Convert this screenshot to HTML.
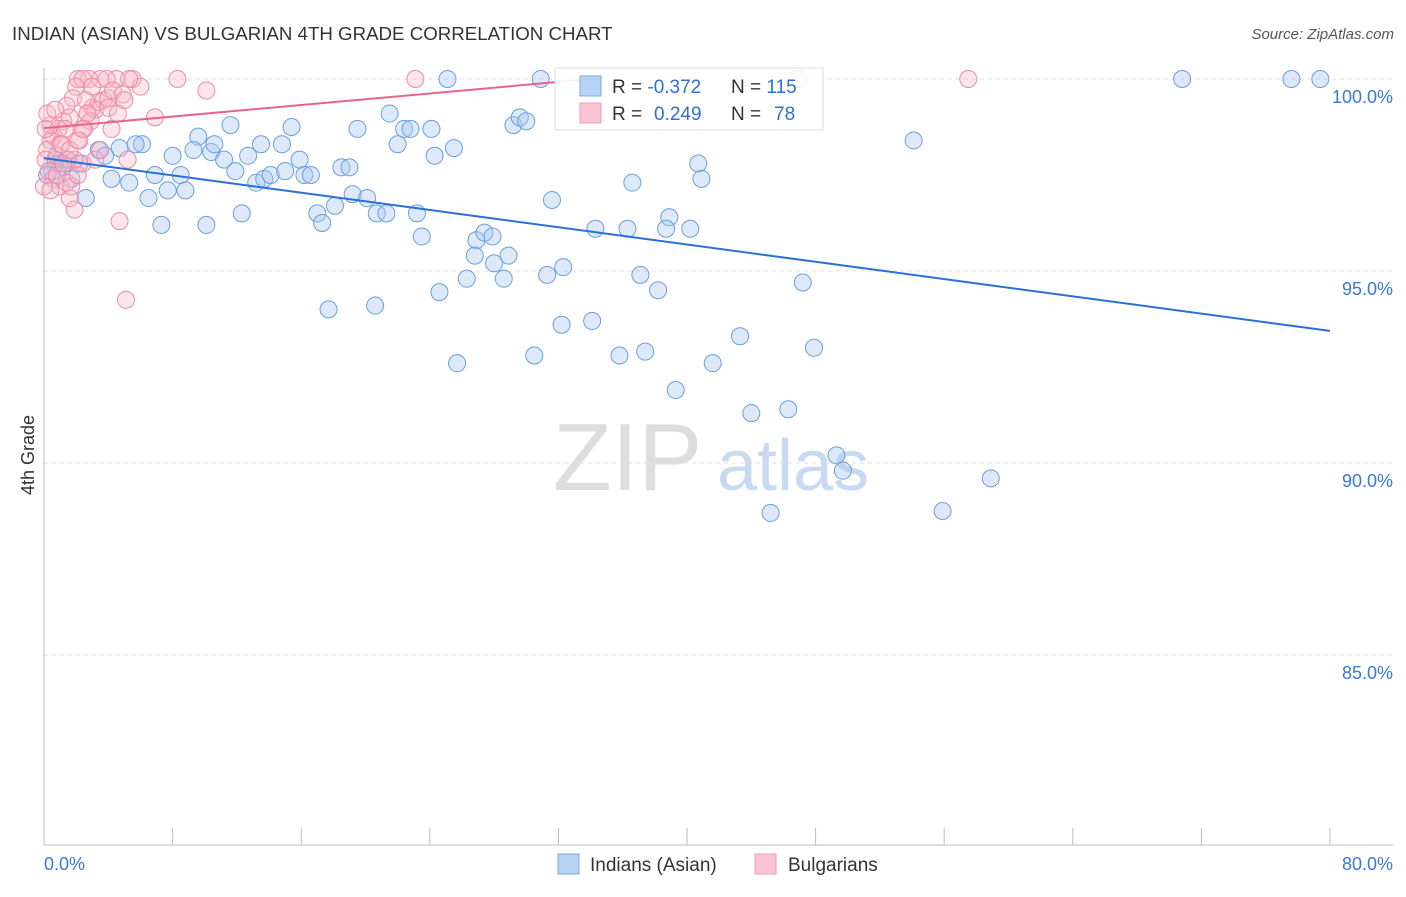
<!DOCTYPE html>
<html><head><meta charset="utf-8"><style>
body{margin:0;background:#fff;font-family:"Liberation Sans",sans-serif;}
svg text{font-family:"Liberation Sans",sans-serif;}
</style></head><body>
<svg id="chart" width="1406" height="892" viewBox="0 0 1406 892" xmlns="http://www.w3.org/2000/svg">
<text x="12" y="40" font-size="18.7" fill="#333">INDIAN (ASIAN) VS BULGARIAN 4TH GRADE CORRELATION CHART</text>
<text x="1394" y="39" font-size="15" fill="#555" font-style="italic" text-anchor="end">Source: ZipAtlas.com</text>
<g>
<text x="553" y="490" font-size="96" fill="#ddd" font-family="Liberation Serif">ZIP</text>
<text x="717" y="490" font-size="72" fill="#c8daf2">atlas</text>
</g>
<g id="grid"></g><g id="axes"></g><g id="marks"></g>
<text transform="translate(34,455) rotate(-90)" font-size="18" fill="#333" text-anchor="middle">4th Grade</text>
<g>
<rect x="555" y="68" width="268" height="62" fill="#fff" fill-opacity="0.9" stroke="#ddd"/>
<rect x="580" y="76" width="21" height="20" fill="#b8d2f4" stroke="#7aa8e4"/>
<rect x="580" y="103" width="21" height="20" fill="#f9c4d3" stroke="#f09ab4"/>
<text x="612" y="93" font-size="19" fill="#333">R = <tspan fill="#2f6fd3">-0.372</tspan></text>
<text x="731" y="93" font-size="19" fill="#333">N = <tspan fill="#2f6fd3">115</tspan></text>
<text x="612" y="120" font-size="19" fill="#333">R = <tspan fill="#2f6fd3" x="654">0.249</tspan></text>
<text x="731" y="120" font-size="19" fill="#333">N = <tspan fill="#2f6fd3" x="774">78</tspan></text>
</g>
<g>
<rect x="558" y="854" width="21" height="20" fill="#b8d2f4" stroke="#7aa8e4"/>
<text x="590" y="871" font-size="19" fill="#333">Indians (Asian)</text>
<text x="788" y="871" font-size="19" fill="#333">Bulgarians</text>
<rect x="755" y="854" width="21" height="20" fill="#f9c4d3" stroke="#f09ab4"/>
</g>
</svg>
<script>
const blueX=[25.1,30.9,46.8,47.0,70.8,77.6,79.4,54.1,21.5,11.6,15.4,19.5,22.4,22.8,24.1,29.2,29.6,30.0,9.6,6.1,4.7,5.7,3.4,3.8,8.0,9.3,10.4,10.6,13.5,14.8,22.0,25.5,11.2,12.7,15.9,18.5,19.0,24.3,11.9,13.2,13.7,14.1,15.0,16.2,16.6,19.2,20.1,6.9,8.5,7.7,8.8,5.3,4.2,2.2,1.4,1.0,0.7,0.5,2.6,6.5,7.3,10.1,12.3,17.0,17.3,18.1,20.7,21.3,23.2,23.5,31.6,36.6,40.7,40.9,34.3,36.3,38.9,38.7,40.2,26.9,27.4,27.9,26.8,28.0,28.9,26.3,28.6,31.3,32.3,37.1,38.2,47.2,24.6,17.7,20.6,32.2,34.1,25.7,30.5,35.8,37.4,43.3,41.6,47.9,39.3,44.0,46.3,49.3,49.7,58.9,45.2,55.9,0.2,0.7,1.2,1.7];
const blueY=[100,100,100,100,100,100,100,98.4,99.1,98.8,98.75,98.7,98.7,98.7,98.7,98.8,99.0,98.9,98.5,98.3,98.2,98.3,98.15,98.0,98.0,98.15,98.1,98.3,98.3,98.3,98.3,98.2,97.9,98.0,97.9,97.7,97.7,98.0,97.6,97.3,97.4,97.5,97.6,97.5,97.5,97.0,96.9,97.5,97.5,97.1,97.1,97.3,97.4,97.8,97.9,97.8,97.8,97.6,96.9,96.9,96.2,96.2,96.5,96.5,96.25,96.7,96.5,96.5,96.5,95.9,96.85,97.3,97.8,97.4,96.1,96.1,96.4,96.1,96.1,95.8,96.0,95.9,95.4,95.2,95.4,94.8,94.8,94.9,95.1,94.9,94.5,94.7,94.45,94.0,94.1,93.6,93.7,92.6,92.8,92.8,92.9,93.3,92.6,93.0,91.9,91.3,91.4,90.2,89.8,89.6,88.7,88.75,97.5,97.9,97.7,97.4];
const pinkX=[23.1,57.5,5.1,8.3,10.1,6.9,4.7,1.9,1.6,5.5,6.0,4.5,3.5,2.8,2.1,2.4,2.0,1.8,1.4,1.2,0.9,0.6,0.4,0.2,0.1,0.3,0.6,1.0,1.4,1.7,2.1,2.4,2.7,3.0,3.4,3.7,4.0,3.2,2.9,2.5,1.6,1.3,1.0,0.8,0.4,0.2,0.1,0.7,1.1,1.5,1.9,2.2,2.6,3.0,3.9,4.3,4.9,5.3,5.2,3.2,3.5,0,0.4,0.8,1.2,1.6,2.1,2.4,2.7,4.0,4.6,5.0,4.2];
const pinkY=[100,100,94.25,100,99.7,99.0,96.3,96.6,96.9,100,99.8,100,100,100,100,100,99.8,99.5,99.3,98.9,98.7,98.5,98.4,98.15,97.9,97.6,97.4,97.2,97.3,97.2,97.5,97.8,99.1,99.25,99.4,99.45,99.5,99.2,98.9,98.7,99.0,98.7,98.3,98.0,98.8,99.1,98.7,99.2,98.3,97.9,97.9,98.4,99.45,99.8,100,99.7,99.6,100,97.9,97.9,98.15,97.2,97.1,97.5,97.8,98.15,98.4,98.7,99.1,99.25,99.1,99.45,98.7];
const trendBlue=[97.94,93.44];
const trendPink=[98.72,100.03,34.8];
const yTicks=[100,95,90,85];
const yTickLabels=["100.0%","95.0%","90.0%","85.0%"];
const xTickVals=[0,8,16,24,32,40,48,56,64,72,80];

const NS="http://www.w3.org/2000/svg";
const X0=44,X1=1330,Y100=79,PXPER=38.4;
function sx(v){return X0+(X1-X0)*v/80;}
function sy(v){return Y100+(100-v)*PXPER;}
function mk(tag,attrs,parent){const e=document.createElementNS(NS,tag);for(const k in attrs)e.setAttribute(k,attrs[k]);parent.appendChild(e);return e;}
const grid=document.getElementById('grid'),axes=document.getElementById('axes'),marks=document.getElementById('marks');
yTicks.forEach((t,i)=>{
 const l=mk('line',{x1:X0,x2:1393,y1:sy(t),y2:sy(t),stroke:'#ddd','stroke-dasharray':'4,4'},grid);
 
 
 const tx=mk('text',{x:1393,y:sy(t)+24,'font-size':18,fill:'#3a78d8','text-anchor':'end'},axes);
 tx.textContent=yTickLabels[i];
 
 
});
const ya=mk('line',{x1:X0,x2:X0,y1:68,y2:845,stroke:'#bbb'},axes);


const xa=mk('line',{x1:X0,x2:1393,y1:845,y2:845,stroke:'#bbb'},axes);


xTickVals.forEach(v=>{
 const t=mk('line',{x1:sx(v),x2:sx(v),y1:828,y2:845,stroke:'#bbb'},axes);
 
 
});
const xl0=mk('text',{x:44,y:870,'font-size':18,fill:'#3a78d8'},axes);xl0.textContent='0.0%';


const xl1=mk('text',{x:1393,y:870,'font-size':18,fill:'#3a78d8','text-anchor':'end'},axes);xl1.textContent='80.0%';


blueX.forEach((x,i)=>{
 const c=mk('circle',{cx:sx(x),cy:sy(blueY[i]),r:8.5,fill:'#a9c8f0','fill-opacity':0.4,stroke:'#6a9ee0','stroke-width':1},marks);
 
 
});
pinkX.forEach((x,i)=>{
 const c=mk('circle',{cx:sx(x),cy:sy(pinkY[i]),r:8.5,fill:'#f6b6c8','fill-opacity':0.35,stroke:'#ee8aa8','stroke-width':1},marks);
 
 
});
const lb=mk('line',{x1:sx(0),y1:sy(trendBlue[0]),x2:sx(80),y2:sy(trendBlue[1]),stroke:'#2a6fd6','stroke-width':2},marks);


const lp=mk('line',{x1:sx(0),y1:sy(trendPink[0]),x2:sx(trendPink[2]),y2:sy(trendPink[1]),stroke:'#e8638c','stroke-width':2},marks);


</script>
</body></html>
